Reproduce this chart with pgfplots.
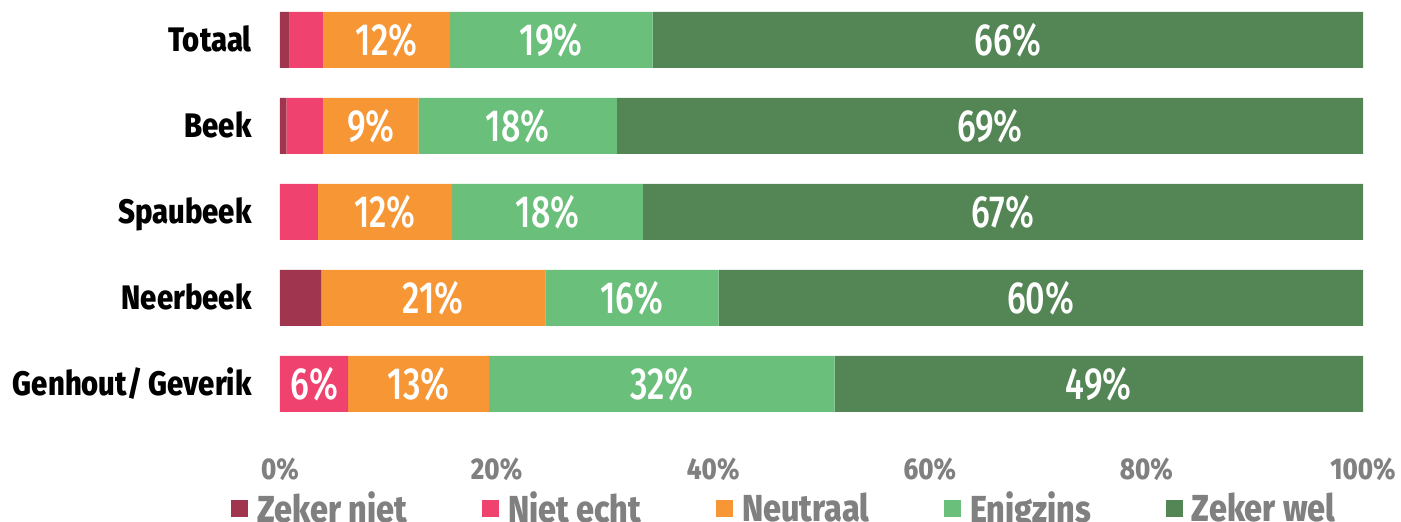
\documentclass[border=0pt]{standalone}
\usepackage{pgfplots}
\pgfplotsset{compat=1.18}
\usepackage{pgfplotstable}
\usepackage{fontspec}
\setmainfont{Fira Sans}[FakeStretch=0.86, BoldFont={Fira Sans ExtraBold}]
\newfontfamily\barfont{Fira Sans Medium}[FakeStretch=0.76]
\definecolor{czn}{HTML}{A0354F}
\definecolor{cne}{HTML}{EF426F}
\definecolor{cneu}{HTML}{F69635}
\definecolor{ceni}{HTML}{6ABF7B}
\definecolor{czw}{HTML}{548655}
\definecolor{cgray}{HTML}{808080}

\pgfplotstableread{
y v lbl
4 0.9 {}
3 0.6 {}
2 0.0 {}
1 3.8 {}
0 0.0 {}
}\tzn
\pgfplotstableread{
y v lbl
4 3.1 {}
3 3.4 {}
2 3.5 {}
1 0.0 {}
0 6.3 6\%
}\tne
\pgfplotstableread{
y v lbl
4 11.7 12\%
3 8.8 9\%
2 12.4 12\%
1 20.7 21\%
0 13.0 13\%
}\tneu
\pgfplotstableread{
y v lbl
4 18.7 19\%
3 18.3 18\%
2 17.6 18\%
1 16.0 16\%
0 31.9 32\%
}\teni
\pgfplotstableread{
y v lbl
4 65.6 66\%
3 68.9 69\%
2 66.5 67\%
1 59.5 60\%
0 48.8 49\%
}\tzw

\begin{document}
\begin{tikzpicture}
\begin{axis}[
  scale only axis,
  width=541.5pt, height=210.7pt,
  xbar stacked, bar width=28pt,
  xmin=0, xmax=100, ymin=-0.45, ymax=4.45,
  xtick={0,20,...,100},
  xticklabel={\pgfmathprintnumber{\tick}\%},
  ytick={0,1,2,3,4},
  yticklabels={Genhout/ Geverik, Neerbeek, Spaubeek, Beek, Totaal},
  axis line style={draw=none},
  tick style={draw=none},
  /pgf/number format/assume math mode=true,
  xticklabel style={font=\bfseries\fontsize{15}{16}\selectfont, text=cgray, anchor=base, inner sep=0pt, yshift=-28.2pt},
  yticklabel style={font=\bfseries\fontsize{17}{18}\selectfont, text=black, anchor=base east, inner sep=0pt, xshift=-14pt, yshift=-5.7pt},
  point meta=explicit symbolic,
  nodes near coords={\pgfplotspointmeta},
  every node near coord/.append style={font=\barfont\fontsize{22.5}{23}\selectfont, text=white, anchor=base, inner sep=0pt, yshift=-7.6pt},
  legend columns=5,
  legend image code/.code={\fill[#1] (0pt,-4.25pt) rectangle (8.5pt,4.25pt);},
  legend style={at={(-0.0452,-0.204)}, anchor=west, draw=none, fill=none, inner sep=0pt,
    font=\bfseries\fontsize{18.8}{19}\selectfont, text=cgray,
    nodes={inner ysep=0pt, inner xsep=0pt},
    /tikz/every odd column/.append style={column sep=4.5pt},
    /tikz/every even column/.append style={column sep=37.5pt}},
]
\addplot[draw=none, fill=czn] table[x=v, y=y, meta=lbl] {\tzn};
\addlegendentry{Zeker niet}
\addplot[draw=none, fill=cne] table[x=v, y=y, meta=lbl] {\tne};
\addlegendentry{Niet echt}
\addplot[draw=none, fill=cneu] table[x=v, y=y, meta=lbl] {\tneu};
\addlegendentry{Neutraal}
\addplot[draw=none, fill=ceni] table[x=v, y=y, meta=lbl] {\teni};
\addlegendentry{Enigzins}
\addplot[draw=none, fill=czw] table[x=v, y=y, meta=lbl] {\tzw};
\addlegendentry{Zeker wel}
\end{axis}
\pgfresetboundingbox
\path[use as bounding box] (-140pt,-49.65pt) rectangle (560.5pt,211.35pt);
\end{tikzpicture}
\end{document}
